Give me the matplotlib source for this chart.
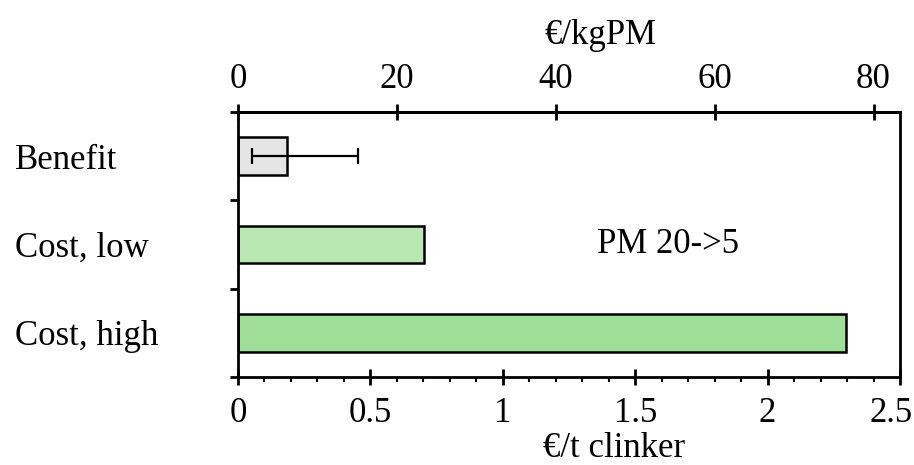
import numpy as np
import matplotlib.pyplot as plt
from matplotlib.ticker import MultipleLocator, FixedLocator
from matplotlib.transforms import ScaledTranslation

plt.rcParams.update({
    'font.family': ['Liberation Serif', 'DejaVu Serif'],
    'font.size': 25,
})

categorias = ['Benefit', 'Cost, low', 'Cost, high']
valores = [0.185, 0.702, 2.296]
err_min = 0.051      # extremo izquierdo de la barra de error (Benefit)
err_max = 0.453      # extremo derecho
colores = ['#e5e5e5', '#b9e8b3', '#a0df98']
factor_top = 1 / 0.03      # €/kgPM por €/t clinker
ticks_abajo = [0, 0.5, 1, 1.5, 2, 2.5]
etiquetas_abajo = ['0', '0.5', '1', '1.5', '2', '2.5']
ticks_arriba = [0, 20, 40, 60, 80]

fig = plt.figure(figsize=(9.14, 4.65), dpi=100)
ax = fig.add_axes([238 / 914, 1 - 377 / 465, 662 / 914, 265 / 465])

y = np.arange(len(categorias))
ax.barh(y, valores, height=0.43, color=colores, edgecolor='black', linewidth=1.8)
ax.errorbar(valores[0], y[0],
            xerr=[[valores[0] - err_min], [err_max - valores[0]]], fmt='none',
            ecolor='black', elinewidth=1.6, capsize=6, capthick=1.6)

ax.set_xlim(0, 2.5)
ax.set_ylim(2.5, -0.5)

for s in ax.spines.values():
    s.set_linewidth(2)

# eje y: categorías, ticks entre barras
ax.set_yticks(y)
ax.set_yticklabels(categorias)
ax.tick_params(axis='y', which='major', length=0, pad=(238 - 15) / 1.389)
for lab in ax.get_yticklabels():
    lab.set_horizontalalignment('left')
ax.yaxis.set_minor_locator(FixedLocator([-0.5, 0.5, 1.5, 2.5]))
ax.tick_params(axis='y', which='minor', direction='out', length=5.8, width=2)

# eje x inferior
ax.set_xticks(ticks_abajo)
ax.set_xticklabels(etiquetas_abajo)
ax.xaxis.set_minor_locator(MultipleLocator(0.1))
ax.tick_params(axis='x', which='major', direction='inout', length=11.5, width=2, pad=9)
ax.tick_params(axis='x', which='minor', direction='out', length=3.8, width=1.5)
ax.set_xlabel('€/t clinker', va='top')
ax.xaxis.set_label_coords(0.568, -0.208, transform=ax.transAxes)

# eje x superior
sec = ax.secondary_xaxis('top', functions=(lambda v: v * factor_top, lambda v: v / factor_top))
sec.set_xticks(ticks_arriba)
sec.tick_params(direction='inout', length=11.5, width=2, pad=6)
sec.spines['top'].set_linewidth(2)
sec.set_xlabel('€/kgPM', va='baseline')
sec.xaxis.set_label_coords(0.548, 1.257, transform=ax.transAxes)

# último tick inferior algo desplazado a la izquierda, como en el original
ult = ax.get_xticklabels()[-1]
ult.set_transform(ult.get_transform() + ScaledTranslation(-9 / 100, 0, fig.dpi_scale_trans))

ax.text(1.356, 1.0, 'PM 20->5', ha='left', va='center')

fig.savefig('out.png', dpi=100)
